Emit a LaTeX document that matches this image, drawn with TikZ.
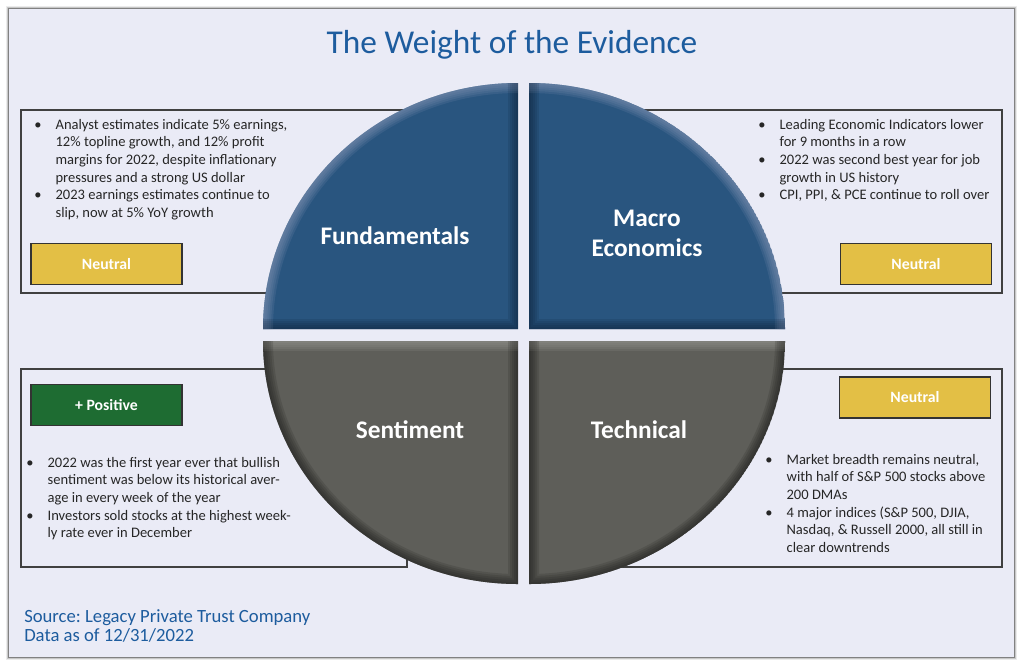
\documentclass[tikz,border=0pt]{standalone}
\usepackage{fontspec}
\setmainfont{Carlito}
\usetikzlibrary{positioning}
\frenchspacing
\definecolor{panelbg}{HTML}{EAEBF6}
\definecolor{titleblue}{HTML}{1D5C9E}
\definecolor{quadblue}{HTML}{29557F}
\definecolor{quadgrey}{HTML}{5E5E59}
\definecolor{rimblue}{HTML}{8595B5}
\definecolor{deepblue}{HTML}{10263F}
\definecolor{rimgrey}{HTML}{9A9A95}
\definecolor{deepgrey}{HTML}{1E1E1C}
\definecolor{neutralgold}{HTML}{E3BF45}
\definecolor{positivegreen}{HTML}{1E6C32}

\newcommand{\bul}{\makebox[16pt][l]{\textbullet}}
\newcommand{\ind}{\hspace*{16pt}}
% #1 outline, #2 light edge, #3 dark edge, #4 fill, #5 light, #6 dark
\newcommand{\pieslice}[6]{%
  \begin{scope}
    \clip #1;
    \fill[#4] #1;
    \foreach \w in {3,6,9,12,15}{
      \draw[#5, opacity=0.17, line width=\w pt] #2;
      \draw[#6, opacity=0.17, line width=\w pt] #3;
    }
  \end{scope}}

\begin{document}
\begin{tikzpicture}[x=0.75pt, y=-0.75pt,
    infobox/.style={draw=black!75, line width=0.9pt},
    badge/.style={draw=black!80, line width=1.1pt, minimum width=113pt,
      minimum height=31pt, inner sep=0pt, text=white,
      font=\fontsize{11.8}{13}\selectfont\bfseries},
    bullets/.style={anchor=north west, align=left, inner sep=0pt,
      font=\fontsize{10.9}{13.2}\selectfont, text=black!85},
    quadlabel/.style={text=white, align=center,
      font=\fontsize{19}{22.5}\selectfont\bfseries}]

    \useasboundingbox (0,0) rectangle (1024,665);
    \fill[white] (0,0) rectangle (1024,665);

    % Panel with soft frame
    \foreach \s/\o in {5/0.08, 3.5/0.15, 2/0.35}
        \draw[black, opacity=\o, line width=\s pt] (9,9) rectangle (1014,657);
    \fill[panelbg] (9,9) rectangle (1014,657);

    \node[font=\fontsize{25}{30}\selectfont, text=titleblue] (title) at (512,45) {The Weight of the Evidence};

    % Boxes behind the pie
    \draw[infobox] (21,110) rectangle (460,293);
    \draw[infobox] (590,110) rectangle (1002,293);
    \draw[infobox] (21,369) rectangle (407,567);
    \draw[infobox] (600,369) rectangle (1002,567);

    % Four quarters of the pie
    \pieslice{(518,329) -- (263,329) arc[start angle=180, end angle=270, x radius=255, y radius=246] -- cycle}
        {(263,329) arc[start angle=180, end angle=270, x radius=255, y radius=246]}
        {(518,83) -- (518,329) -- (263,329)}{quadblue}{rimblue}{deepblue}
    \pieslice{(529,329) -- (529,83) arc[start angle=270, end angle=360, x radius=256, y radius=246] -- cycle}
        {(529,83) arc[start angle=270, end angle=360, x radius=256, y radius=246]}
        {(529,83) -- (529,329) -- (785,329)}{quadblue}{rimblue}{deepblue}
    \pieslice{(518,341) -- (518,584) arc[start angle=90, end angle=180, x radius=255, y radius=243] -- cycle}
        {(263,341) -- (518,341)}
        {(518,341) -- (518,584) arc[start angle=90, end angle=180, x radius=255, y radius=243]}{quadgrey}{rimgrey}{deepgrey}
    \pieslice{(529,341) -- (785,341) arc[start angle=0, end angle=90, x radius=256, y radius=243] -- cycle}
        {(529,341) -- (785,341)}
        {(785,341) arc[start angle=0, end angle=90, x radius=256, y radius=243] -- (529,341)}{quadgrey}{rimgrey}{deepgrey}

    \node[quadlabel] (fund) at (395,236) {Fundamentals};
    \node[quadlabel] (macro) at (647,233) {Macro\\Economics};
    \node[quadlabel] (sent) at (410,430) {Sentiment};
    \node[quadlabel] (tech) at (639,430) {Technical};

    % Bullet texts
    \node[bullets] (fundtext) at (34,119) {\bul Analyst estimates indicate 5\% earnings,\\
        \ind 12\% topline growth, and 12\% profit\\
        \ind margins for 2022, despite inflationary\\
        \ind pressures and a strong US dollar\\
        \bul 2023 earnings estimates continue to\\
        \ind slip, now at 5\% YoY growth};
    \node[bullets] (macrotext) at (758,119) {\bul Leading Economic Indicators lower\\
        \ind for 9 months in a row\\
        \bul 2022 was second best year for job\\
        \ind growth in US history\\
        \bul CPI, PPI, \& PCE continue to roll over};
    \node[bullets] (senttext) at (26,457) {\bul 2022 was the first year ever that bullish\\
        \ind sentiment was below its historical aver-\\
        \ind age in every week of the year\\
        \bul Investors sold stocks at the highest week-\\
        \ind ly rate ever in December};
    \node[bullets] (techtext) at (765,454) {\bul Market breadth remains neutral,\\
        \ind with half of S\&P 500 stocks above\\
        \ind 200 DMAs\\
        \bul 4 major indices (S\&P 500, DJIA,\\
        \ind Nasdaq, \& Russell 2000, all still in\\
        \ind clear downtrends};

    % Verdict badges
    \node[badge, fill=neutralgold] (fundbadge) at (106.5,264) {Neutral};
    \node[badge, fill=neutralgold] (macrobadge) at (916,264) {Neutral};
    \node[badge, fill=positivegreen] (sentbadge) at (106.5,405) {+ Positive};
    \node[badge, fill=neutralgold] (techbadge) at (915,397.5) {Neutral};

    \node[anchor=north west, align=left, inner sep=0pt, text=titleblue,
        font=\fontsize{14}{14.6}\selectfont] (source) at (24,609)
        {Source: Legacy Private Trust Company\\Data as of 12/31/2022};
\end{tikzpicture}
\end{document}
